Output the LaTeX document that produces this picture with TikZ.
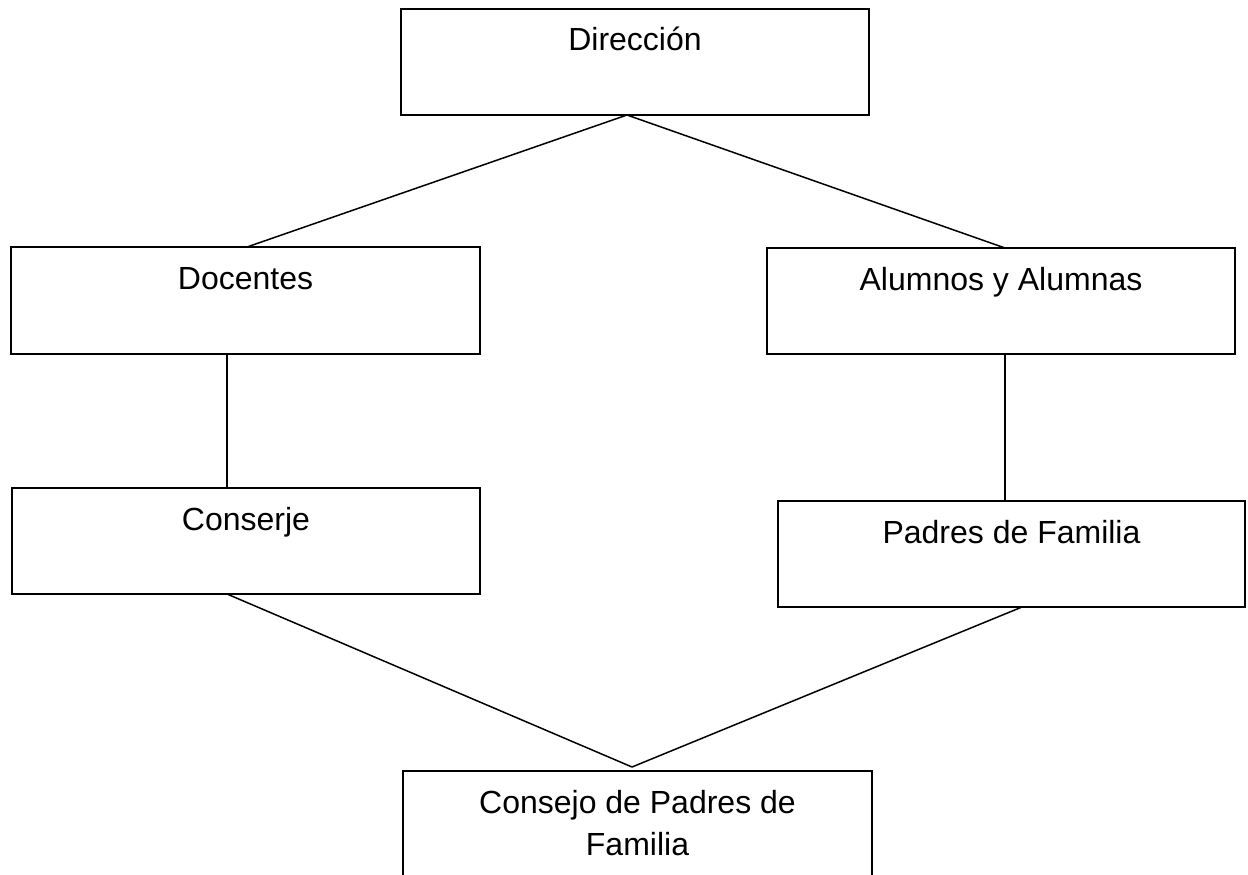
\documentclass[tikz,border=0pt]{standalone}
\usepackage{fontspec}
\setmainfont{Liberation Sans}
\usetikzlibrary{calc}
\begin{document}
\begin{tikzpicture}[x=1pt,y=-1pt,
  box/.style={draw=black, line width=1.8pt, rectangle, inner sep=0pt, outer sep=0pt},
  lbl/.style={anchor=base, font=\fontsize{32}{42}\selectfont, inner sep=0pt, align=center},
  conn/.style={draw=black, line width=1.5pt}]
\clip (0,0) rectangle (1248,875);
\fill[white] (0,0) rectangle (1248,875);
% boxes
\node[box, minimum width=468pt, minimum height=106pt] (dir) at (635,62) {};
\node[box, minimum width=469pt, minimum height=107pt] (doc) at (245.5,300.5) {};
\node[box, minimum width=468pt, minimum height=106pt] (alu) at (1001,301) {};
\node[box, minimum width=468pt, minimum height=106pt] (con) at (246,541) {};
\node[box, minimum width=467pt, minimum height=106pt] (pad) at (1011.5,554) {};
\node[box, minimum width=469pt, minimum height=130pt] (csj) at (637.5,836) {};
% labels
\node[lbl] (dirt) at ($(dir.north)+(0,42)$) {Dirección};
\node[lbl] (doct) at ($(doc.north)+(0,42)$) {Docentes};
\node[lbl] (alut) at ($(alu.north)+(0,42)$) {Alumnos y Alumnas};
\node[lbl] (cont) at ($(con.north)+(0,42)$) {Conserje};
\node[lbl] (padt) at ($(pad.north)+(0,42)$) {Padres de Familia};
\node[lbl] (csjt) at ($(csj.north)+(0,84)$) {Consejo de Padres de\\Familia};
% connectors
\coordinate (apex) at ($(csj.north)+(-5.5,-4)$);
\draw[conn] ($(dir.south)+(-8,0)$) -- ($(doc.north)+(1.5,0)$);
\draw[conn] ($(dir.south)+(-8,0)$) -- ($(alu.north)+(4,0)$);
\draw[conn] ($(doc.south)+(-18.5,0)$) -- ($(con.north)+(-19,0)$);
\draw[conn] ($(alu.south)+(4,0)$) -- ($(pad.north)+(-6.5,0)$);
\draw[conn] ($(con.south)+(-19,0)$) -- (apex);
\draw[conn] ($(pad.south)+(10.5,0)$) -- (apex);
\end{tikzpicture}
\end{document}
